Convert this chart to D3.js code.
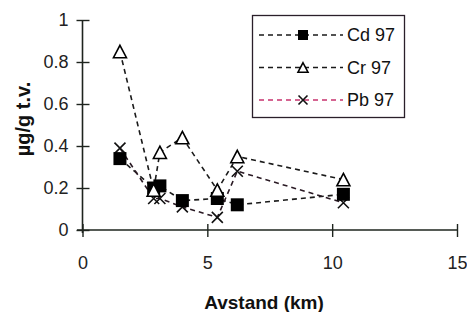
<!DOCTYPE html>
<html><head><meta charset="utf-8">
<script src="https://cdn.jsdelivr.net/npm/d3@7"></script>
<style>body{margin:0;background:#fff}svg{display:block}</style>
</head><body>
<svg id="c" width="467" height="312"></svg>
<script>
const distances = [1.5, 2.85, 3.1, 4.0, 5.4, 6.2, 10.45];
const cd97 = [0.34, 0.20, 0.21, 0.14, 0.15, 0.12, 0.17];
const cr97 = [0.85, 0.19, 0.37, 0.44, 0.19, 0.35, 0.24];
const pb97 = [0.39, 0.15, 0.15, 0.11, 0.06, 0.28, 0.13];
const seriesNames = ["Cd 97", "Cr 97", "Pb 97"];
const xTicks = [0, 5, 10, 15];
const yTicks = [0, 0.2, 0.4, 0.6, 0.8, 1];
const xTitle = "Avstand (km)";
const yTitle = "µg/g t.v.";

const svg = d3.select("#c");
const font = "'Liberation Sans', Arial, sans-serif";
const x = d3.scaleLinear().domain([0, 15]).range([82.5, 457]);
const y = d3.scaleLinear().domain([0, 1]).range([230, 20]);
const axisColor = "#1e241e";

// x axis
const gx = svg.append("g").attr("transform", `translate(0,${y(0)})`)
  .call(d3.axisBottom(x).tickValues(xTicks).tickFormat(d3.format("d")).tickSize(0).tickPadding(39));
gx.select(".domain").remove();
gx.append("line").attr("x1", 77).attr("x2", x(15)).attr("stroke", axisColor).attr("stroke-width", 1.6);
gx.selectAll(".tick line").attr("y1", -6).attr("y2", 7).attr("stroke", axisColor).attr("stroke-width", 1.4);
gx.selectAll(".tick text").attr("font-family", font).attr("font-size", 18).attr("fill", "#222").attr("dy", "0");

// y axis
const gy = svg.append("g").attr("transform", `translate(${x(0)},0)`)
  .call(d3.axisLeft(y).tickValues(yTicks).tickFormat(d => d3.format("")(+d.toFixed(1))).tickSize(0).tickPadding(14));
gy.select(".domain").remove();
gy.append("line").attr("y1", y(1)).attr("y2", y(0) + 3).attr("stroke", axisColor).attr("stroke-width", 1.6);
gy.selectAll(".tick line").attr("x1", -6).attr("x2", 7).attr("stroke", axisColor).attr("stroke-width", 1.4);
gy.selectAll(".tick text").attr("font-family", font).attr("font-size", 18).attr("fill", "#222");

// titles
svg.append("text").attr("x", 264).attr("y", 309).attr("text-anchor", "middle")
  .attr("font-family", font).attr("font-weight", "bold").attr("font-size", 19).attr("fill", "#111").text(xTitle);
svg.append("text").attr("transform", `translate(30,${119}) rotate(-90)`).attr("text-anchor", "middle")
  .attr("font-family", font).attr("font-weight", "bold").attr("font-size", 20).attr("fill", "#111").text(yTitle);

const series = [
  {name: seriesNames[0], values: cd97, marker: "square", line: "#1a1a1a", legendLine: "#1a1a1a"},
  {name: seriesNames[1], values: cr97, marker: "triangle", line: "#1a1a1a", legendLine: "#1a1a1a"},
  {name: seriesNames[2], values: pb97, marker: "cross", line: "#2a1a24", legendLine: "#c8326e"}
];

function drawMarker(g, type, cx, cy, s) {
  if (type === "square") {
    g.append("rect").attr("x", cx - s/2).attr("y", cy - s/2).attr("width", s).attr("height", s).attr("fill", "#000");
  } else if (type === "triangle") {
    const h = s * 0.95;
    g.append("path").attr("d", `M${cx},${cy - h/2}L${cx + s/2},${cy + h/2}L${cx - s/2},${cy + h/2}Z`)
      .attr("fill", "#fff").attr("stroke", "#000").attr("stroke-width", 1.6);
  } else {
    const r = s / 2;
    g.append("path").attr("d", `M${cx - r},${cy - r}L${cx + r},${cy + r}M${cx + r},${cy - r}L${cx - r},${cy + r}`)
      .attr("stroke", "#111").attr("stroke-width", 1.6).attr("fill", "none");
  }
}

const line = d3.line().x(d => x(d[0])).y(d => y(d[1]));
const plot = svg.append("g");
series.forEach(s => {
  const pts = distances.map((d, i) => [d, s.values[i]]);
  plot.append("path").attr("d", line(pts)).attr("fill", "none").attr("stroke", s.line)
    .attr("stroke-width", 1.6).attr("stroke-dasharray", "5,4");
});
[series[2], series[0], series[1]].forEach(s => {
  const g = plot.append("g");
  distances.forEach((d, i) => drawMarker(g, s.marker, x(d), y(s.values[i]), s.marker === "cross" ? 11 : 13));
});

// legend
const lg = svg.append("g");
lg.append("rect").attr("x", 252.5).attr("y", 15.5).attr("width", 152).attr("height", 102)
  .attr("fill", "#fff").attr("stroke", "#2a1f2a").attr("stroke-width", 1.3);
const rowY = d3.scalePoint().domain(seriesNames).range([35, 100]);
series.forEach(s => {
  const yy = rowY(s.name);
  lg.append("line").attr("x1", 259).attr("x2", 343).attr("y1", yy).attr("y2", yy)
    .attr("stroke", s.legendLine).attr("stroke-width", 1.6).attr("stroke-dasharray", "5,4");
  drawMarker(lg, s.marker, 303, yy, s.marker === "cross" ? 9 : 10);
  lg.append("text").attr("x", 347).attr("y", yy).attr("dy", "0.36em")
    .attr("font-family", font).attr("font-size", 18).attr("fill", "#111").text(s.name);
});
</script>
</body></html>
